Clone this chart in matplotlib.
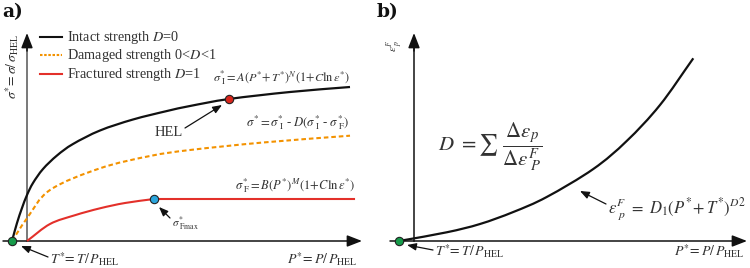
import matplotlib
matplotlib.use("Agg")
import matplotlib.pyplot as plt
from matplotlib.path import Path
from matplotlib.patches import PathPatch

plt.rcParams["font.family"] = ["Liberation Serif", "DejaVu Serif"]
plt.rcParams["mathtext.fontset"] = "stix"

TEXT = "#333333"

# ---- Panel a: JH-2 strength curves (P*, sigma*) ----
intact_p = [-0.15, -0.10, -0.05, 0.0, 0.06, 0.16, 0.30, 0.46, 0.73, 1.06, 1.40, 1.63, 2.02, 2.63, 3.23]
intact_s = [0.0, 0.18, 0.33, 0.46, 0.58, 0.72, 0.855, 0.97, 1.105, 1.215, 1.30, 1.35, 1.42, 1.49, 1.54]

damaged_p = [-0.15, 0.0, 0.23, 0.73, 1.23, 1.63, 2.36, 3.23]
damaged_s = [0.0, 0.227, 0.51, 0.727, 0.85, 0.91, 0.985, 1.053]

fractured_p = [0.0, 0.23, 0.48, 0.73, 0.98, 1.27]
fractured_s = [0.0, 0.17, 0.258, 0.327, 0.38, 0.42]
fractured_plateau_end = 3.27

hel_point = (2.02, 1.42)
fmax_point = (1.27, 0.42)
tension_point = (-0.15, 0.0)

legend_labels = [r"Intact strength $D$=0",
                 r"Damaged strength 0<$D$<1",
                 r"Fractured strength $D$=1"]

# ---- Panel b: fracture strain (P*, eps_p^F) ----
strain_p = [-0.15, 0.327, 0.66, 0.993, 1.327, 1.793, 2.127, 2.46, 2.793]
strain_e = [0.0, 0.087, 0.17, 0.29, 0.44, 0.72, 1.0, 1.36, 1.827]

fig = plt.figure(figsize=(7.5, 2.68), dpi=100)
axa = fig.add_axes([0.0, 0.0, 0.5, 1.0])
axb = fig.add_axes([0.5, 0.0, 0.5, 1.0])

axa.set_xlim(-0.27, 3.48)
axa.set_ylim(-0.27, 2.41)
axb.set_xlim(-0.39, 3.36)
axb.set_ylim(-0.27, 2.41)
for ax in (axa, axb):
    ax.axis("off")


def smooth_path(xs, ys):
    """Cubic Bezier path through the given points (Catmull-Rom tangents)."""
    n = len(xs)
    tang = []
    for i in range(n):
        a = max(i - 1, 0)
        b = min(i + 1, n - 1)
        tang.append(((xs[b] - xs[a]) / (b - a), (ys[b] - ys[a]) / (b - a)))
    verts = [(xs[0], ys[0])]
    codes = [Path.MOVETO]
    for i in range(n - 1):
        c1 = (xs[i] + tang[i][0] / 3, ys[i] + tang[i][1] / 3)
        c2 = (xs[i + 1] - tang[i + 1][0] / 3, ys[i + 1] - tang[i + 1][1] / 3)
        verts += [c1, c2, (xs[i + 1], ys[i + 1])]
        codes += [Path.CURVE4] * 3
    return Path(verts, codes)


def draw_curve(ax, xs, ys, **kw):
    patch = PathPatch(smooth_path(xs, ys), fill=False, **kw)
    ax.add_patch(patch)


def arrow_axis(ax, start, end, color="#111111", lw=1.1):
    ax.annotate("", xy=end, xytext=start,
                arrowprops=dict(arrowstyle="-|>,head_length=0.9,head_width=0.35",
                                color=color, lw=lw, shrinkA=0, shrinkB=0))


def pointer(ax, tail, head):
    ax.annotate("", xy=head, xytext=tail,
                arrowprops=dict(arrowstyle="-|>,head_length=0.55,head_width=0.22",
                                color="#111111", lw=0.9, shrinkA=0, shrinkB=0))


# Panel a axes
axa.plot([0, 0], [0, 2.0], color="#555555", lw=1.1)
arrow_axis(axa, (0, 1.9), (0, 2.08))
arrow_axis(axa, (-0.24, 0), (3.35, 0))

draw_curve(axa, intact_p, intact_s, edgecolor="#111111", lw=1.6, zorder=3)
draw_curve(axa, damaged_p, damaged_s, edgecolor="#f39200", lw=1.5,
           ls=(0, (2.2, 1.4)), zorder=3)
draw_curve(axa, fractured_p, fractured_s, edgecolor="#e3302a", lw=1.5, zorder=3)
axa.plot([fractured_p[-1], fractured_plateau_end], [fractured_s[-1], fractured_s[-1]],
         color="#e3302a", lw=1.5, zorder=3)

axa.plot(*hel_point, "o", ms=6, mfc="#d9261c", mec="#222222", mew=0.8, zorder=5)
axa.plot(*fmax_point, "o", ms=6, mfc="#2aa5dc", mec="#222222", mew=0.8, zorder=5)
axa.plot(*tension_point, "o", ms=6, mfc="#169b4a", mec="#222222", mew=0.8, zorder=5)

# legend drawn by hand
leg_colors = ["#111111", "#f39200", "#e3302a"]
leg_styles = ["-", (0, (1.2, 0.8)), "-"]
leg_y = [2.04, 1.86, 1.67]
for lab, c, s, y in zip(legend_labels, leg_colors, leg_styles, leg_y):
    axa.plot([0.13, 0.35], [y, y], color=c, ls=s, lw=1.5)
    axa.text(0.40, y, lab, fontsize=10.3, color=TEXT, va="center", ha="left")

axa.text(-0.15, 1.75, r"$\sigma^{*}\!=\sigma/\,\sigma_{\rm HEL}$", rotation=90,
         fontsize=10, color=TEXT, ha="center", va="center")

axa.text(3.23, 1.63,
         r"$\sigma^{*}_{\ \rm I}=A(P^{*}\!+T^{*})^{N}(1\!+\!C\ln\varepsilon^{*})$",
         fontsize=8.8, color=TEXT, ha="right", va="center")
axa.text(3.23, 1.18,
         r"$\sigma^{*}=\sigma^{*}_{\ \rm I}$ - $D(\sigma^{*}_{\ \rm I}$ - $\sigma^{*}_{\ \rm F})$",
         fontsize=9.2, color=TEXT, ha="right", va="center")
axa.text(3.28, 0.55,
         r"$\sigma^{*}_{\ \rm F}=B(P^{*})^{M}(1\!+\!C\ln\varepsilon^{*})$",
         fontsize=9.0, color=TEXT, ha="right", va="center")

axa.text(1.42, 1.09, "HEL", fontsize=10.5, color=TEXT, ha="center", va="center")
pointer(axa, (1.58, 1.13), (1.95, 1.36))

axa.text(1.45, 0.17, r"$\sigma^{*}_{\ \rm Fmax}$", fontsize=8, color=TEXT,
         ha="left", va="center")
pointer(axa, (1.43, 0.23), (1.32, 0.34))

axa.text(0.23, -0.18, r"$T^{*}\!=T/\,P_{\rm HEL}$", fontsize=10, color=TEXT,
         ha="left", va="center")
pointer(axa, (0.21, -0.16), (-0.06, -0.05))
axa.text(3.31, -0.18, r"$P^{*}\!=P/\,P_{\rm HEL}$", fontsize=10, color=TEXT,
         ha="right", va="center")

fig.text(2 / 750, 1 - 12 / 268, "a)", fontsize=13.5, fontweight="bold",
         family="DejaVu Serif", ha="left", va="center", color="#111111")

# Panel b axes
axb.plot([0, 0], [0, 2.0], color="#111111", lw=1.1)
arrow_axis(axb, (0, 1.9), (0, 2.08))
arrow_axis(axb, (-0.24, 0), (3.33, 0))

draw_curve(axb, strain_p, strain_e, edgecolor="#111111", lw=1.6, zorder=3)
axb.plot(-0.15, 0.0, "o", ms=6, mfc="#169b4a", mec="#222222", mew=0.8, zorder=5)

axb.text(-0.19, 1.95, r"$\varepsilon^{F}_{\ p}$", rotation=90, fontsize=8,
         color=TEXT, ha="center", va="center")

axb.text(0.76, 0.94,
         r"$D\ =\sum\ \dfrac{\Delta\varepsilon_{p}}{\Delta\varepsilon^{F}_{\ P}}$",
         fontsize=15, color=TEXT, ha="center", va="center")

axb.text(1.94, 0.32, r"$\varepsilon^{F}_{\ p}\ =\ D_{1}(P^{*}\!+T^{*})^{D2}$",
         fontsize=12, color=TEXT, ha="left", va="center")
pointer(axb, (1.92, 0.37), (1.66, 0.50))

axb.text(0.21, -0.10, r"$T^{*}\!=T/\,P_{\rm HEL}$", fontsize=10, color=TEXT,
         ha="left", va="center")
pointer(axb, (0.19, -0.09), (-0.07, -0.04))
axb.text(3.31, -0.10, r"$P^{*}\!=P/\,P_{\rm HEL}$", fontsize=10, color=TEXT,
         ha="right", va="center")

fig.text(377 / 750, 1 - 12 / 268, "b)", fontsize=13.5, fontweight="bold",
         family="DejaVu Serif", ha="left", va="center", color="#111111")

fig.savefig("out.png", dpi=100)
